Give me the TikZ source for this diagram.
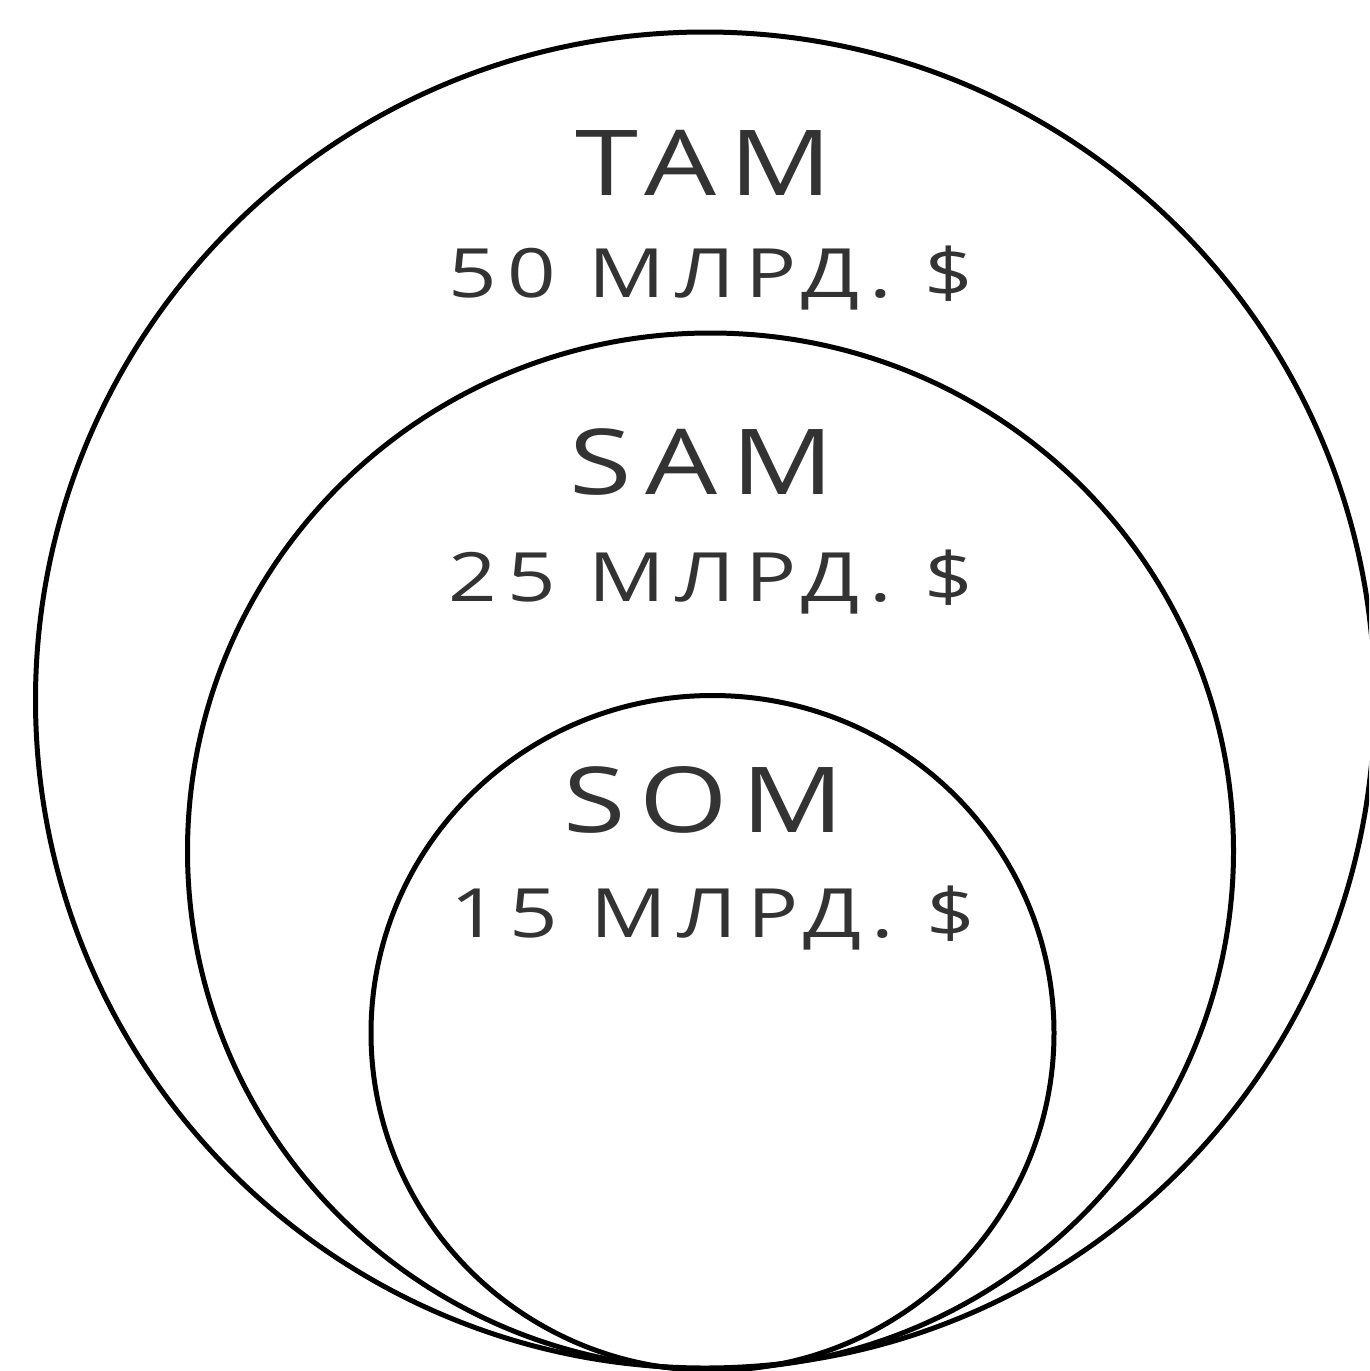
\documentclass[tikz,border=0pt]{standalone}
\usepackage{fontspec}
\newfontfamily\labfont[FakeStretch=1.25,LetterSpace=15]{Open Sans}
\definecolor{txt}{HTML}{333333}
\tikzset{
  ring/.style={draw=black, line width=5pt},
  bigname/.style={anchor=base, text=txt, inner sep=0pt, font=\labfont\fontsize{91}{100}\selectfont},
  amount/.style={anchor=base, text=txt, inner sep=0pt, font=\labfont\fontsize{68}{80}\selectfont}
}
\begin{document}
\begin{tikzpicture}[x=1pt,y=-1pt]
\useasboundingbox (0,0) rectangle (1369,1371);
\clip (0,0) rectangle (1369,1371);
\draw[ring] (705,700) ellipse [x radius=669.5, y radius=668];
\draw[ring] (710.5,851) ellipse [x radius=523, y radius=518];
\draw[ring] (712.5,1033) ellipse [x radius=341.5, y radius=337.5];
\node[bigname] (tam) at (704,195) {TAM};
\node[amount] (tamv) at (711,297) {50 МЛРД. \$};
\node[bigname] (sam) at (702,494) {SAM};
\node[amount] (samv) at (711,601) {25 МЛРД. \$};
\node[bigname] (som) at (704,832) {SOM};
\node[amount] (somv) at (713,937) {15 МЛРД. \$};
\end{tikzpicture}
\end{document}
